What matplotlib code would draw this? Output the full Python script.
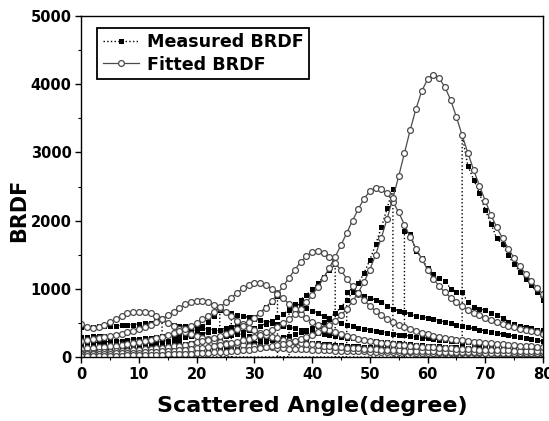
import matplotlib
matplotlib.use("Agg")
import matplotlib.pyplot as plt
from matplotlib.lines import Line2D
from matplotlib.ticker import MultipleLocator

plt.rcParams['font.family'] = ['DejaVu Sans']
plt.rcParams['font.weight'] = 'bold'

# scattered angle, 1 degree steps
angles = list(range(0, 81))

# fitted BRDF for incidence angles 10..60 degrees
fit_10 = [480, 440, 430, 440, 470, 510, 560, 605, 640, 660,
          665, 660, 640, 605, 560, 505, 455, 410, 370, 335,
          305, 280, 258, 240, 224, 210, 198, 187, 177, 168,
          160, 153, 146, 140, 134, 129, 124, 119, 115, 111,
          107, 104, 100, 97, 94, 91, 89, 86, 84, 82,
          80, 78, 76, 74, 72, 71, 69, 68, 66, 65,
          64, 62, 61, 60, 59, 58, 57, 56, 55, 54,
          53, 52, 51, 51, 50, 49, 48, 48, 47, 46, 46]
fit_20 = [240, 250, 262, 275, 290, 305, 322, 340, 362, 385,
          410, 440, 475, 515, 560, 610, 665, 720, 770, 808,
          828, 825, 805, 768, 715, 655, 595, 535, 480, 432,
          390, 355, 325, 298, 275, 255, 238, 222, 208, 196,
          185, 175, 166, 158, 150, 143, 137, 131, 126, 121,
          116, 112, 108, 104, 100, 97, 94, 91, 88, 86,
          83, 81, 79, 77, 75, 73, 72, 70, 69, 67,
          66, 65, 63, 62, 61, 60, 59, 58, 57, 56, 55]
fit_30 = [120, 126, 133, 140, 148, 157, 167, 178, 190, 203,
          218, 234, 252, 272, 295, 320, 348, 380, 415, 455,
          500, 550, 605, 665, 728, 800, 870, 940, 1005, 1055,
          1085, 1080, 1050, 1000, 935, 860, 780, 705, 635, 572,
          517, 470, 428, 392, 360, 332, 308, 287, 268, 251,
          236, 222, 210, 199, 189, 180, 172, 164, 157, 151,
          145, 140, 135, 130, 126, 122, 118, 115, 112, 109,
          106, 103, 100, 98, 96, 94, 92, 90, 88, 86, 85]
fit_40 = [60, 63, 66, 70, 74, 78, 82, 87, 92, 98,
          104, 111, 118, 126, 135, 145, 156, 168, 182, 197,
          214, 233, 254, 278, 305, 335, 370, 410, 455, 508,
          568, 640, 725, 820, 925, 1040, 1160, 1280, 1390, 1480,
          1540, 1555, 1530, 1470, 1380, 1270, 1150, 1035, 930, 835,
          750, 676, 612, 557, 510, 470, 435, 405, 378, 355,
          334, 315, 298, 283, 269, 256, 245, 234, 224, 215,
          207, 199, 192, 185, 179, 173, 167, 162, 157, 153, 149]
fit_50 = [40, 42, 44, 46, 48, 50, 53, 56, 59, 62,
          66, 70, 74, 79, 84, 89, 95, 102, 109, 117,
          126, 136, 147, 159, 172, 187, 204, 223, 244, 268,
          295, 325, 360, 400, 445, 497, 557, 627, 707, 800,
          905, 1025, 1160, 1310, 1470, 1640, 1820, 2000, 2170, 2320,
          2430, 2485, 2470, 2400, 2280, 2120, 1940, 1760, 1590, 1440,
          1280, 1150, 1040, 950, 870, 805, 745, 695, 650, 610,
          575, 543, 513, 486, 461, 438, 416, 396, 377, 360, 343]
fit_60 = [15, 16, 17, 18, 19, 20, 21, 22, 23, 25,
          27, 29, 31, 33, 35, 37, 40, 43, 46, 50,
          54, 58, 62, 67, 72, 78, 85, 92, 100, 110,
          120, 131, 143, 157, 172, 190, 210, 232, 258, 288,
          322, 362, 410, 465, 530, 610, 705, 815, 945, 1100,
          1280, 1500, 1750, 2030, 2330, 2650, 2990, 3330, 3640, 3900,
          4070, 4140, 4090, 3960, 3770, 3520, 3250, 2990, 2740, 2510,
          2290, 2080, 1900, 1740, 1590, 1450, 1330, 1220, 1110, 1010, 920]

# measured BRDF (None = detector blocked near the incident direction)
meas_10 = ([300, 300, 305, 310, 315] + [None] * 11 +
           [470, 460, 450, 440,
            430, 420, 410, 400, 390, 375, 360, 345, 330, 315,
            300, 290, 280, 270, 260, 250, 240, 232, 224, 216,
            208, 200, 193, 186, 180, 174, 168, 162, 157, 152,
            147, 142, 138, 134, 130, 126, 122, 119, 116, 113,
            110, 107, 104, 101, 99, 97, 95, 93, 91, 89,
            87, 85, 83, 82, 80, 79, 77, 76, 75, 74, 72])
meas_20 = ([440, 442, 445, 448, 452, 456, 460, 465, 470, 476,
            483, 492, 505, 525, 550] + [None] * 11 +
           [640, 620, 600, 580,
            560, 540, 520, 500, 480, 460, 440, 420, 400, 385,
            370, 355, 340, 325, 310, 297, 285, 273, 262, 252,
            242, 233, 224, 216, 208, 200, 193, 186, 180, 174,
            168, 163, 158, 153, 148, 144, 140, 136, 132, 128,
            125, 122, 119, 116, 113, 110, 108, 106, 104, 102, 100])
meas_30 = ([200, 205, 210, 216, 222, 228, 235, 242, 250, 258,
            266, 275, 285, 295, 306, 318, 330, 343, 357, 372,
            400, 450, 520, 600, 690] + [None] * 11 +
           [760, 780, 760, 720,
            680, 640, 600, 560, 525, 495, 470, 450, 432, 415,
            400, 385, 370, 355, 342, 330, 318, 306, 295, 285,
            275, 265, 256, 247, 238, 230, 222, 215, 208, 201,
            195, 189, 183, 177, 172, 167, 162, 157, 153, 149, 145])
meas_40 = ([130, 134, 138, 143, 148, 153, 159, 165, 172, 179,
            187, 196, 206, 217, 229, 242, 256, 271, 287, 304,
            322, 341, 360, 380, 400, 420, 440, 462, 488, 520,
            580, 650, 730, 810, 900] + [None] * 11 +
           [960, 1000, 960, 900,
            860, 840, 800, 750, 700, 680, 660, 630, 600, 585,
            575, 555, 535, 515, 495, 475, 455, 435, 418, 400,
            385, 368, 352, 336, 320, 305, 290, 275, 260, 245, 230])
meas_50 = ([90, 93, 96, 99, 103, 107, 111, 116, 121, 126,
            132, 138, 145, 152, 160, 168, 177, 187, 198, 210,
            223, 237, 252, 268, 285, 303, 322, 343, 366, 396,
            430, 460, 490, 530, 580, 630, 690, 760, 840, 910,
            990, 1080, 1180, 1270, 1360] + [None] * 11 +
           [1850, 1800, 1560, 1450,
            1300, 1220, 1160, 1120, 1000, 960, 950, 800, 740, 700,
            690, 650, 610, 570, 520, 480, 460, 440, 420, 400, 390])
meas_60 = ([40, 41, 42, 44, 46, 48, 50, 52, 54, 57,
            60, 63, 66, 70, 74, 78, 83, 88, 93, 99,
            105, 112, 119, 127, 135, 144, 154, 165, 177, 190,
            204, 219, 235, 252, 270, 290, 312, 336, 362, 390,
            420, 460, 510, 570, 640, 730, 830, 950, 1080, 1230,
            1420, 1650, 1900, 2180, 2470] + [None] * 11 +
           [3250, 2800, 2600, 2400, 2160, 1950, 1740, 1650, 1490, 1360,
            1250, 1150, 1050, 950, 840])

fitted = [fit_10, fit_20, fit_30, fit_40, fit_50, fit_60]
measured = [meas_10, meas_20, meas_30, meas_40, meas_50, meas_60]

fig = plt.figure(figsize=(5.49, 4.21), dpi=100)
ax = fig.add_axes([0.148, 0.152, 0.841, 0.810])

circle_style = dict(marker='o', markersize=4.2, markerfacecolor='white',
                    markeredgecolor='#4a4a4a', markeredgewidth=0.9)
square_style = dict(marker='s', markersize=3.6, markerfacecolor='black',
                    markeredgecolor='black', markeredgewidth=0)

# measured curves: dotted line drops to zero across the blocked range
for vals in measured:
    assert len(vals) == len(angles)
    xs, ys = [], []
    prev = None
    for a, v in zip(angles, vals):
        if v is None:
            if prev is not None:
                xs.append(prev)
                ys.append(0)
            prev = None
            continue
        if prev is None and xs:
            xs.append(a)
            ys.append(0)
        xs.append(a)
        ys.append(v)
        prev = a
    ax.plot(xs, ys, ':', color='black', lw=1.0)
    px = [a for a, v in zip(angles, vals) if v is not None]
    py = [v for v in vals if v is not None]
    ax.plot(px, py, linestyle='none', **square_style)

# fitted curves on top
for vals in fitted:
    ax.plot(angles, vals, '-', color='#4a4a4a', lw=0.9, **circle_style)

ax.set_xlim(0, 80)
ax.set_ylim(0, 5000)
ax.xaxis.set_major_locator(MultipleLocator(10))
ax.xaxis.set_minor_locator(MultipleLocator(5))
ax.yaxis.set_major_locator(MultipleLocator(1000))
ax.yaxis.set_minor_locator(MultipleLocator(500))
ax.tick_params(which='major', direction='out', length=4, width=1.0, labelsize=10.5, pad=3)
ax.tick_params(which='minor', direction='out', length=2.5, width=0.8)
for lab in ax.get_xticklabels() + ax.get_yticklabels():
    lab.set_fontweight('bold')
for sp in ax.spines.values():
    sp.set_linewidth(1.0)

ax.set_xlabel('Scattered Angle(degree)', fontsize=16, fontweight='bold', labelpad=10)
ax.set_ylabel('BRDF', fontsize=15, fontweight='bold')
ax.yaxis.set_label_coords(-0.112, 0.43)

handles = [
    Line2D([], [], linestyle=':', color='black', lw=1.0, **square_style),
    Line2D([], [], linestyle='-', color='#4a4a4a', lw=0.9, **circle_style),
]
leg = ax.legend(handles, ['Measured BRDF', 'Fitted BRDF'], loc='upper left',
                bbox_to_anchor=(0.035, 0.965), borderaxespad=0,
                prop={'size': 12.6, 'weight': 'bold'}, fancybox=False,
                framealpha=1, edgecolor='black', handlelength=2.1,
                borderpad=0.3, labelspacing=0.25, handletextpad=0.45)
leg.get_frame().set_linewidth(1.3)

fig.savefig('out.png', dpi=100)
